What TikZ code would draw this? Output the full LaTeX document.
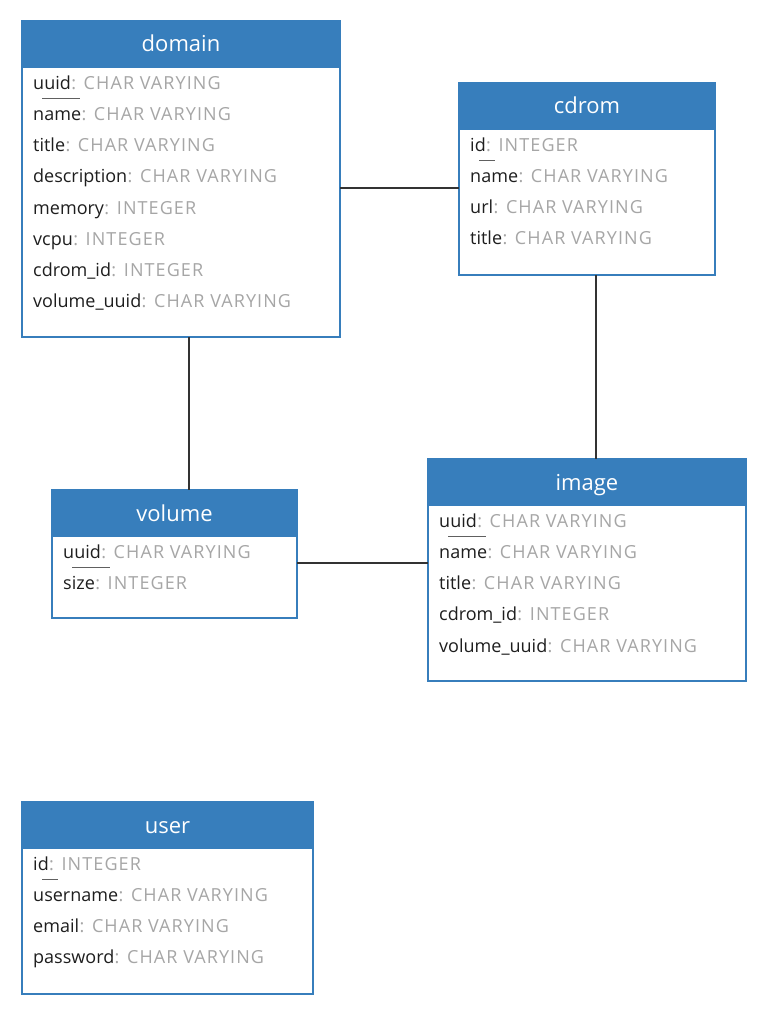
\documentclass[tikz,border=0pt]{standalone}
\usepackage{fontspec}
\setmainfont{Open Sans}
\newfontfamily\ertypefont[LetterSpace=6]{Open Sans}
\usetikzlibrary{calc}
\definecolor{erblue}{HTML}{377EBC}
\definecolor{ertype}{HTML}{A6A6A6}
\definecolor{erkey}{HTML}{1E1E1E}
\definecolor{erlink}{HTML}{333333}
\definecolor{erpk}{HTML}{606060}
\tikzset{
  tablebox/.style={draw=erblue, line width=2pt, fill=white, inner sep=0pt, outer sep=0pt, anchor=north west},
  titletext/.style={text=white, font=\fontsize{22}{26}\selectfont, inner sep=0pt, anchor=base},
  keytext/.style={text=erkey, font=\fontsize{18}{22}\selectfont, inner sep=0pt, anchor=base west},
  typetext/.style={text=ertype, font=\ertypefont\fontsize{18}{22}\selectfont, inner sep=0pt, anchor=base west},
  pkline/.style={draw=erpk, line width=1pt},
  link/.style={draw=erlink, line width=1.5pt},
}
% table frame with blue heading band and title
\newcommand\ertable[6]{%
  \node[tablebox, minimum width=#4pt, minimum height=#5pt] (#1) at (#2,#3) {};
  \fill[erblue] (#1.north west) rectangle ($(#1.north east)+(0,47)$);
  \draw[erblue, line width=2pt] (#1.north west) rectangle (#1.south east);
  \node[titletext] (#1-title) at ($(#1.north)+(0,31)$) {#6};
}
% one column row: name in black, type in grey
\newcommand\erfield[4]{%
  \node[keytext] (#1-k#2) at ($(#1.north west)+(11,{68.5+31.15*(#2-1)})$) {#3};
  \node[typetext] (#1-t#2) at (#1-k#2.base east) {: #4};
}
% primary key underline
\newcommand\erpk[1]{%
  \draw[pkline] ($(#1-k1.base west)+(9,9)$) -- ($(#1-k1.base east)+(9,9)$);
}
\begin{document}
\begin{tikzpicture}[x=1pt,y=-1pt]
\useasboundingbox[fill=white] (0,0) rectangle (768,1016);

\ertable{domain}{22}{21}{318}{316}{domain}
\erfield{domain}{1}{uuid}{CHAR VARYING}
\erfield{domain}{2}{name}{CHAR VARYING}
\erfield{domain}{3}{title}{CHAR VARYING}
\erfield{domain}{4}{description}{CHAR VARYING}
\erfield{domain}{5}{memory}{INTEGER}
\erfield{domain}{6}{vcpu}{INTEGER}
\erfield{domain}{7}{cdrom\_id}{INTEGER}
\erfield{domain}{8}{volume\_uuid}{CHAR VARYING}
\erpk{domain}

\ertable{cdrom}{459}{83}{256}{192}{cdrom}
\erfield{cdrom}{1}{id}{INTEGER}
\erfield{cdrom}{2}{name}{CHAR VARYING}
\erfield{cdrom}{3}{url}{CHAR VARYING}
\erfield{cdrom}{4}{title}{CHAR VARYING}
\erpk{cdrom}

\ertable{image}{428}{459}{318}{222}{image}
\erfield{image}{1}{uuid}{CHAR VARYING}
\erfield{image}{2}{name}{CHAR VARYING}
\erfield{image}{3}{title}{CHAR VARYING}
\erfield{image}{4}{cdrom\_id}{INTEGER}
\erfield{image}{5}{volume\_uuid}{CHAR VARYING}
\erpk{image}

\ertable{volume}{52}{490}{245}{128}{volume}
\erfield{volume}{1}{uuid}{CHAR VARYING}
\erfield{volume}{2}{size}{INTEGER}
\erpk{volume}

\ertable{user}{22}{802}{291}{192}{user}
\erfield{user}{1}{id}{INTEGER}
\erfield{user}{2}{username}{CHAR VARYING}
\erfield{user}{3}{email}{CHAR VARYING}
\erfield{user}{4}{password}{CHAR VARYING}
\erpk{user}

% relationships
\draw[link] (domain.east |- 0,188) -- (cdrom.west |- 0,188);
\draw[link] (domain.south -| 189,0) -- (volume.north -| 189,0);
\draw[link] (cdrom.south -| 596,0) -- (image.north -| 596,0);
\draw[link] (volume.east |- 0,563) -- (image.west |- 0,563);
\end{tikzpicture}
\end{document}
